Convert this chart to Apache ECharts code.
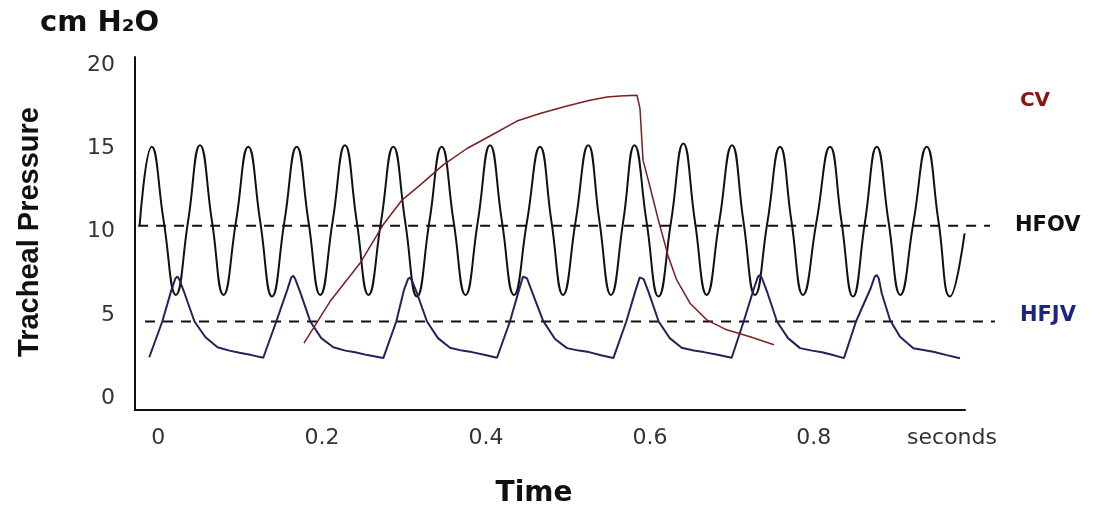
<!DOCTYPE html>
<html>
<head>
<meta charset="utf-8">
<script src="https://cdn.jsdelivr.net/npm/echarts@6/dist/echarts.min.js"></script>
<style>
html,body{margin:0;padding:0;background:#fff;}
#chart{width:1105px;height:511px;}
</style>
</head>
<body>
<div id="chart"></div>
<script>
// ---- data (seconds, cm H2O) ----
var xTicks = [0, 0.2, 0.4, 0.6, 0.8];
var yTicks = [0, 5, 10, 15, 20];

var hfovTime = [-0.0227,-0.0079,0.0068,0.0216,0.0364,0.0510,0.0657,0.0797,0.0949,0.1099,0.1245,0.1389,0.1540,0.1690,0.1834,0.1978,0.2128,0.2279,0.2423,0.2566,0.2719,0.2869,0.3014,0.3158,0.3309,0.3459,0.3605,0.3750,0.3900,0.4049,0.4195,0.4342,0.4500,0.4659,0.4799,0.4940,0.5093,0.5248,0.5385,0.5525,0.5674,0.5812,0.5959,0.6105,0.6258,0.6408,0.6550,0.6693,0.6846,0.7002,0.7142,0.7283,0.7435,0.7588,0.7728,0.7868,0.8033,0.8198,0.8338,0.8478,0.8625,0.8768,0.8912,0.9056,0.9217,0.9378,0.9522,0.9662,0.9840];
var hfovPressure = [10.35,15.1,10.6,6.2,10.6,15.2,10.6,6.2,10.6,15.1,10.6,6.1,10.6,15.1,10.6,6.2,10.6,15.2,10.6,6.2,10.6,15.1,10.6,6.1,10.6,15.1,10.6,6.2,10.6,15.2,10.6,6.2,10.6,15.1,10.6,6.2,10.6,15.2,10.6,6.2,10.6,15.2,10.6,6.1,10.6,15.3,10.6,6.2,10.6,15.2,10.6,6.2,10.6,15.1,10.6,6.2,10.6,15.1,10.6,6.1,10.6,15.1,10.6,6.2,10.6,15.1,10.6,6.1,9.9];

var hfjvTime = [-0.0109,0.0050,0.0162,0.0211,0.0236,0.0260,0.0321,0.0443,0.0577,0.0724,0.0870,0.0992,0.1139,0.1282,
  0.1441,0.1575,0.1624,0.1649,0.1673,0.1734,0.1856,0.1990,0.2137,0.2283,0.2405,0.2552,0.2747,
  0.2905,0.2999,0.3048,0.3073,0.3097,0.3158,0.3280,0.3414,0.3561,0.3707,0.3829,0.3976,0.4134,
  0.4292,0.4403,0.4452,0.4476,0.4500,0.4561,0.4696,0.4842,0.4988,0.5135,0.5257,0.5403,0.5554,
  0.5712,0.5827,0.5876,0.5900,0.5924,0.5985,0.6107,0.6242,0.6388,0.6535,0.6657,0.6827,0.6998,
  0.7144,0.7270,0.7319,0.7344,0.7368,0.7429,0.7551,0.7685,0.7832,0.7978,0.8100,0.8222,0.8368,
  0.8515,0.8694,0.8743,0.8768,0.8792,0.8829,0.8930,0.9052,0.9214,0.9458,0.9622,0.9784];
var hfjvPressure = [2.45,4.6,6.5,7.2,7.3,7.1,6.3,4.6,3.65,3.05,2.85,2.72,2.58,2.42,
  4.6,6.5,7.25,7.35,7.15,6.35,4.6,3.6,3.05,2.85,2.75,2.58,2.4,
  4.6,6.5,7.15,7.25,7.05,6.3,4.6,3.6,3.02,2.85,2.76,2.6,2.42,
  4.6,6.5,7.3,7.39,7.2,6.4,4.65,3.55,3.0,2.85,2.76,2.57,2.4,
  4.6,6.5,7.25,7.35,7.15,6.35,4.6,3.6,3.02,2.86,2.76,2.6,2.42,
  4.6,6.6,7.3,7.39,7.2,6.4,4.6,3.6,3.0,2.85,2.75,2.6,2.4,
  4.6,6.6,7.3,7.39,7.2,6.3,4.69,3.68,2.99,2.78,2.58,2.39];

var cvTime = [0.1779,0.2096,0.2462,0.2743,0.2975,0.3195,0.3475,0.3768,0.4049,0.4378,0.4659,0.4988,0.5269,0.5477,0.5635,0.5843,0.5879,0.5916,0.6001,0.6103,0.6225,0.6327,0.6489,0.6693,0.6937,0.7222,0.7514];
var cvPressure = [3.3,5.8,8.1,10.4,11.9,12.8,14.0,15.0,15.75,16.65,17.1,17.55,17.9,18.1,18.15,18.2,17.4,14.3,12.7,10.7,8.5,7.1,5.7,4.7,4.1,3.68,3.2];

var hfovMeanTime = [-0.0245, 1.015];
var hfovMeanPressure = [10.35, 10.35];
var hfjvMeanTime = [-0.0161, 1.021];
var hfjvMeanPressure = [4.6, 4.6];

function pairs(t, p) { return t.map(function (v, i) { return [v, p[i]]; }); }

var chart = echarts.init(document.getElementById('chart'), null, {renderer: 'canvas'});
var tickFont = 'DejaVu Sans';
var X_MIN = -0.0283, X_MAX = 0.9845, Y_MIN = -0.72, Y_MAX = 20.5;
var PLOT_W = 830, WIDE_W = 870;
chart.setOption({
  backgroundColor: '#ffffff',
  animation: false,
  grid: [
    {left: 135, top: 57, width: PLOT_W, height: 353},
    {left: 135, top: 57, width: WIDE_W, height: 353}
  ],
  xAxis: [{
    type: 'value', min: X_MIN, max: X_MAX,
    name: 'seconds', nameLocation: 'end', nameGap: -13,
    nameTextStyle: {fontFamily: tickFont, fontSize: 22, color: '#333', align: 'center', verticalAlign: 'top', padding: [17, 0, 0, 0]},
    axisLine: {show: true, onZero: false, lineStyle: {color: '#111', width: 2}},
    axisTick: {show: false},
    splitLine: {show: false},
    axisLabel: {customValues: xTicks, margin: 17, fontFamily: tickFont, fontSize: 22, color: '#333',
      formatter: function (v) { return v === 0 ? '0' : v.toFixed(1); }}
  }, {
    type: 'value', gridIndex: 1, show: false,
    min: X_MIN, max: X_MIN + (X_MAX - X_MIN) * WIDE_W / PLOT_W
  }],
  yAxis: [{
    type: 'value', min: Y_MIN, max: Y_MAX,
    axisLine: {show: true, onZero: false, lineStyle: {color: '#111', width: 2}},
    axisTick: {show: false},
    splitLine: {show: false},
    axisLabel: {customValues: yTicks, margin: 20, fontFamily: tickFont, fontSize: 22, color: '#333'}
  }, {
    type: 'value', gridIndex: 1, show: false, min: Y_MIN, max: Y_MAX
  }],
  graphic: [
    {type: 'text', x: 40, y: 23, style: {text: 'cm H\u2082O', font: 'bold 29px "DejaVu Sans"', fill: '#111', textVerticalAlign: 'middle'}},
    {type: 'text', x: 30, y: 232, rotation: Math.PI / 2, style: {text: 'Tracheal Pressure', font: 'bold 29px "Liberation Sans"', fill: '#111', textAlign: 'center', textVerticalAlign: 'middle'}},
    {type: 'text', x: 534, y: 494, style: {text: 'Time', font: 'bold 28px "DejaVu Sans"', fill: '#111', textAlign: 'center', textVerticalAlign: 'middle'}},
    {type: 'text', x: 1035, y: 101, style: {text: 'CV', font: 'bold 20px "DejaVu Sans"', fill: '#8b1414', textAlign: 'center', textVerticalAlign: 'middle'}}
  ],
  series: [
    {name: 'HFOV mean', type: 'line', xAxisIndex: 1, yAxisIndex: 1, data: pairs(hfovMeanTime, hfovMeanPressure), showSymbol: false,
      lineStyle: {color: '#111', width: 2, type: [10, 8]},
      endLabel: {show: true, formatter: 'HFOV', distance: 25, fontFamily: 'DejaVu Sans', fontWeight: 'bold', fontSize: 21, color: '#111'}},
    {name: 'HFJV mean', type: 'line', xAxisIndex: 1, yAxisIndex: 1, data: pairs(hfjvMeanTime, hfjvMeanPressure), showSymbol: false,
      lineStyle: {color: '#111', width: 2, type: [10, 8]},
      endLabel: {show: true, formatter: 'HFJV', distance: 25, offset: [0, -6], fontFamily: 'DejaVu Sans', fontWeight: 'bold', fontSize: 21, color: '#1a2680'}},
    {name: 'HFOV', type: 'line', data: pairs(hfovTime, hfovPressure), showSymbol: false, smooth: 0.5, clip: false,
      lineStyle: {color: '#111', width: 2}},
    {name: 'HFJV', type: 'line', data: pairs(hfjvTime, hfjvPressure), showSymbol: false, clip: false,
      lineStyle: {color: '#23235c', width: 2}},
    {name: 'CV', type: 'line', data: pairs(cvTime, cvPressure), showSymbol: false, clip: false,
      lineStyle: {color: '#7a1f1f', width: 1.5}}
  ]
});
</script>
</body>
</html>
